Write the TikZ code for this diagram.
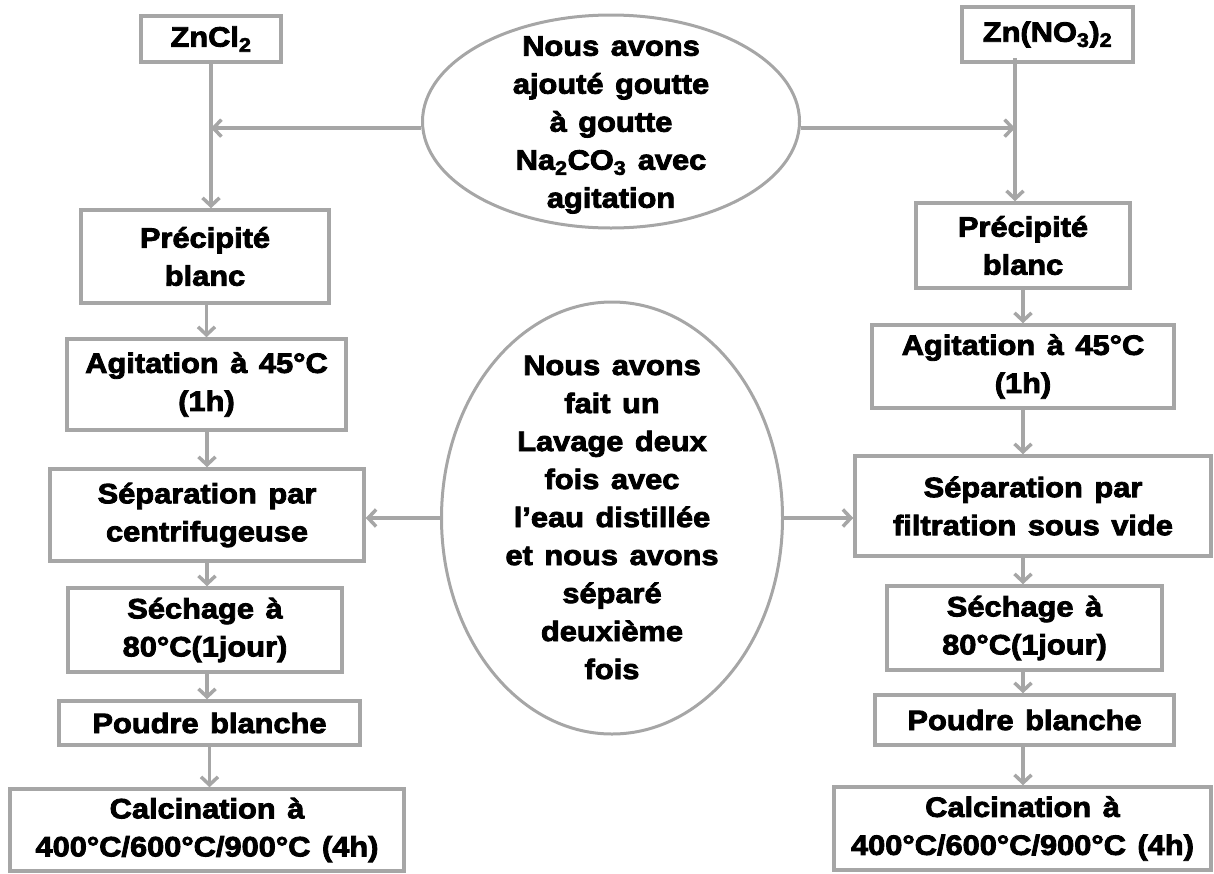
\documentclass[tikz,border=0pt]{standalone}
\usepackage{fontspec}
\setmainfont{Liberation Sans}[FakeStretch=1.1, FakeBold=3, WordSpace=1.35]
\usetikzlibrary{arrows.meta,shapes.geometric}
\definecolor{lg}{HTML}{A6A6A6}
\tikzset{
  box/.style={draw=lg, line width=3.5pt, inner sep=0pt, align=center, text=black,
    font=\bfseries\fontsize{28}{38}\selectfont},
  oval/.style={ellipse, draw=lg, line width=3pt, inner sep=0pt},
  txt/.style={align=center, text=black, font=\bfseries\fontsize{28}{38}\selectfont},
  arr/.style={draw=lg, line width=3.5pt, -{Straight Barb[length=8pt,width=17pt]}}
}
\begin{document}
\begin{tikzpicture}[x=1pt,y=-1pt]
\useasboundingbox (0,0) rectangle (1214,873);
% left column
\node[box, minimum width=140pt, minimum height=46pt] (zn1) at (211,39) {ZnCl\textsubscript{2}};
\node[box, minimum width=248pt, minimum height=93pt] (p1) at (205,256.5) {Précipité\\blanc};
\node[box, minimum width=279pt, minimum height=91pt] (a1) at (206.5,384.5) {Agitation à 45°C\\(1h)};
\node[box, minimum width=314pt, minimum height=92pt] (s1) at (207,515) {Séparation par\\centrifugeuse};
\node[box, minimum width=274pt, minimum height=84pt] (d1) at (205,630) {Séchage à\\80°C(1jour)};
\node[box, minimum width=301pt, minimum height=44pt] (pb1) at (209.5,723) {Poudre blanche};
\node[box, minimum width=394pt, minimum height=82pt] (c1) at (207,830) {Calcination à\\400°C/600°C/900°C (4h)};
% right column
\node[box, minimum width=171pt, minimum height=55pt] (zn2) at (1047.5,34.5) {Zn(NO\textsubscript{3})\textsubscript{2}};
\node[box, minimum width=214pt, minimum height=85pt] (p2) at (1023,245.5) {Précipité\\blanc};
\node[box, minimum width=302pt, minimum height=83pt] (a2) at (1023,366.5) {Agitation à 45°C\\(1h)};
\node[box, minimum width=356pt, minimum height=100pt] (s2) at (1033,506) {Séparation par\\filtration sous vide};
\node[box, minimum width=275pt, minimum height=84pt] (d2) at (1024.5,628) {Séchage à\\80°C(1jour)};
\node[box, minimum width=299pt, minimum height=50pt] (pb2) at (1024.5,720) {Poudre blanche};
\node[box, minimum width=377pt, minimum height=83pt] (c2) at (1022.5,828.5) {Calcination à\\400°C/600°C/900°C (4h)};
% ellipses
\node[oval, minimum width=377pt, minimum height=213pt] (e1) at (611,121.5) {};
\node[txt] (t1) at (611,125) {Nous avons\\ajouté goutte\\à goutte\\Na\textsubscript{2}CO\textsubscript{3} avec\\agitation};
\node[oval, minimum width=341pt, minimum height=432pt] (e2) at (612,518) {};
\node[txt] (t2) at (612,517.5) {Nous avons\\fait un\\Lavage deux\\fois avec\\l’eau distillée\\et nous avons\\séparé\\deuxième\\fois};
% left arrows
\draw[arr] (zn1.south) -- (zn1.south |- p1.north);
\draw[arr] (e1.182) -- (zn1.south |- e1.182);
\draw[arr] (a1.north |- p1.south) -- (a1.north);
\draw[arr] (s1.north |- a1.south) -- (s1.north);
\draw[arr] (s1.south) -- (s1.south |- d1.north);
\draw[arr] (d1.south -| s1.south) -- (s1.south |- pb1.north);
\draw[arr] (pb1.south) -- (pb1.south |- c1.north);
\draw[arr] (e2.west) -- (e2.west -| s1.east);
% right arrows
\coordinate (rtop) at ([xshift=-32.5pt,yshift=6pt]zn2.south);
\draw[arr] (rtop) -- (rtop |- p2.north);
\draw[arr] (e1.-2) -- (rtop |- e1.-2);
\draw[arr] (p2.south) -- (p2.south |- a2.north);
\draw[arr] (a2.south) -- (a2.south |- s2.north);
\draw[arr] (s2.south -| p2.south) -- (d2.north -| p2.south);
\draw[arr] (d2.south -| p2.south) -- (pb2.north -| p2.south);
\draw[arr] (pb2.south -| p2.south) -- (c2.north -| p2.south);
\draw[arr] (e2.east) -- (e2.east -| s2.west);
\end{tikzpicture}
\end{document}
